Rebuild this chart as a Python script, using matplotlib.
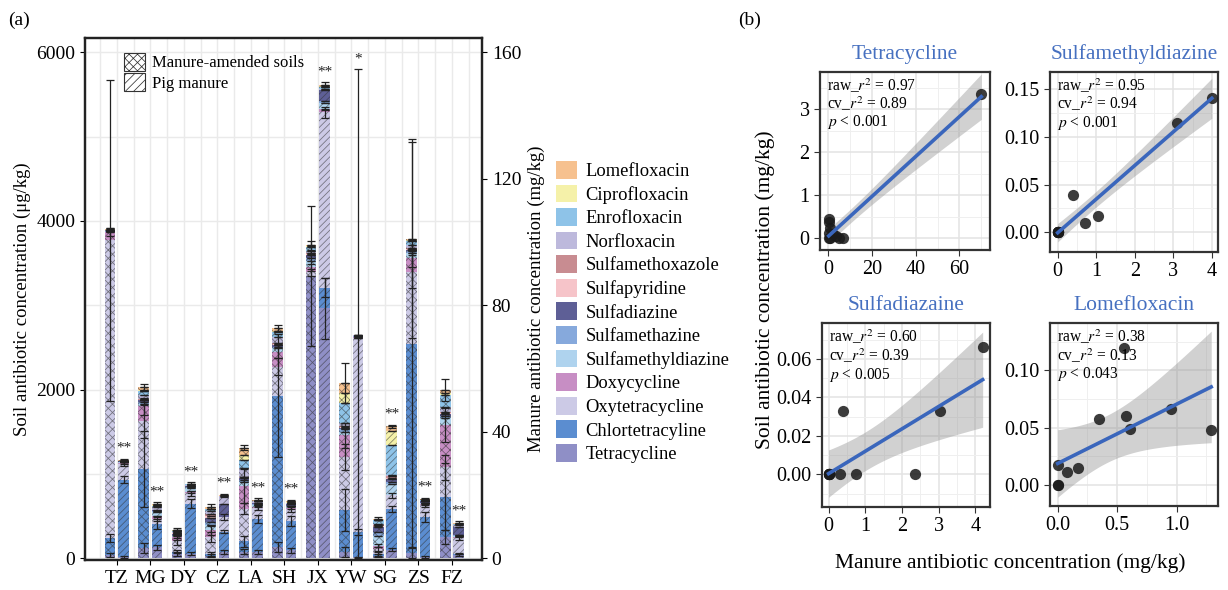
import numpy as np
import matplotlib
matplotlib.use("Agg")
import matplotlib.pyplot as plt
from matplotlib.patches import Patch
from matplotlib.ticker import FormatStrFormatter, MultipleLocator

plt.rcParams['font.family'] = ['Liberation Serif', 'DejaVu Serif']
plt.rcParams['mathtext.fontset'] = 'stix'
plt.rcParams['hatch.linewidth'] = 0.55

# ---------------- panel (a) data ----------------
sites = ['TZ', 'MG', 'DY', 'CZ', 'LA', 'SH', 'JX', 'YW', 'SG', 'ZS', 'FZ']
# stacking order bottom -> top
antibiotics = ['Tetracycline', 'Chlortetracyline', 'Oxytetracycline', 'Doxycycline',
               'Sulfamethyldiazine', 'Sulfamethazine', 'Sulfadiazine', 'Sulfapyridine',
               'Sulfamethoxazole', 'Norfloxacin', 'Enrofloxacin', 'Ciprofloxacin', 'Lomefloxacin']
colors = ['#8F8FC6', '#5B8DD0', '#CCCAE6', '#C78EC4', '#AFD3EE', '#86A9DC', '#5E5F96',
          '#F6C4C9', '#C88C91', '#BDB9DC', '#8EC3E8', '#F5F1A9', '#F6C18F']

# soil concentrations (ug/kg)
soil_tc = [40, 120, 50, 30, 80, 130, 3350, 80, 30, 60, 250]
soil_ctc = [200, 935, 30, 20, 120, 1800, 0, 490, 20, 2480, 480]
soil_otc = [3530, 568, 120, 200, 390, 340, 40, 630, 60, 860, 350]
soil_dox = [100, 182, 50, 80, 270, 180, 60, 260, 40, 160, 500]
soil_smd = [5, 30, 15, 60, 50, 40, 80, 40, 120, 60, 80]
soil_smz = [5, 20, 10, 40, 20, 20, 30, 30, 40, 20, 30]
soil_sd = [5, 20, 10, 50, 20, 20, 40, 20, 60, 20, 20]
soil_spd = [0, 5, 10, 20, 10, 10, 10, 10, 10, 10, 10]
soil_smx = [0, 5, 5, 20, 10, 10, 10, 10, 10, 10, 10]
soil_nor = [5, 50, 15, 40, 100, 70, 30, 30, 20, 40, 60]
soil_enr = [5, 45, 10, 20, 100, 60, 40, 240, 40, 40, 150]
soil_cip = [0, 20, 5, 10, 60, 20, 10, 120, 10, 10, 20]
soil_lom = [5, 28, 10, 20, 80, 30, 10, 120, 10, 20, 40]

soil_sd_tc = [20, 60, 20, 20, 30, 60, 830, 60, 20, 60, 80]
soil_sd_ctc = [50, 450, 20, 20, 60, 730, 0, 250, 20, 2400, 400]
soil_sd_otc = [1900, 200, 40, 60, 60, 100, 40, 150, 20, 200, 150]
soil_sd_dox = [50, 100, 30, 50, 200, 80, 40, 150, 20, 100, 200]
soil_sd_total = [20, 40, 20, 30, 30, 40, 50, 240, 20, 1180, 130]

# pig manure concentrations (mg/kg)
man_tc = [0.5, 3.5, 1.5, 2.0, 2.0, 2.5, 79, 0.3, 2.7, 0.5, 1.0]
man_ctc = [24.4, 7.3, 15.8, 6.4, 10.5, 9.3, 6.5, 8.0, 13, 12.6, 0.5]
man_otc = [4.9, 1.7, 3.2, 4.7, 3.5, 3.8, 55.5, 61.5, 4.3, 3.7, 5.0]
man_dox = [0.3, 0.8, 0.5, 0, 0.3, 0.3, 1.0, 0.2, 0, 0.3, 0.3]
man_smd = [0.2, 1.5, 1.2, 0, 0.5, 0.5, 2.0, 0.1, 3.5, 0.3, 0.3]
man_smz = [0.2, 0.3, 0.3, 0, 0.3, 0.2, 0.5, 0.1, 0.5, 0.2, 0.3]
man_sd = [0.3, 0.3, 0.5, 4.1, 0.5, 0.6, 3.5, 0.2, 1.0, 0.4, 2.5]
man_spd = [0, 0, 0, 0, 0, 0, 0, 0, 0.5, 0, 0]
man_smx = [0, 0, 0, 0, 0, 0, 0, 0, 0.5, 0, 0]
man_nor = [0.1, 0.8, 0.3, 2.5, 0.4, 0.3, 0.5, 0.1, 0.3, 0.2, 0.5]
man_enr = [0, 0.5, 0.1, 0, 0.1, 0.1, 0.5, 0, 9.5, 0.1, 0.3]
man_cip = [0, 0.2, 0, 0, 0.1, 0.1, 0.2, 0, 4.5, 0.1, 0]
man_lom = [0.1, 0.4, 0.1, 0.2, 0.3, 0.3, 0.5, 0.1, 1.5, 0.3, 0.5]

man_sd_tc = [0.3, 0.8, 0.5, 0.5, 0.5, 0.8, 9.5, 0.2, 0.5, 0.3, 0.3]
man_sd_ctc = [1.0, 1.5, 1.5, 0.5, 1.2, 1.5, 3.0, 1.0, 1.0, 1.5, 0.2]
man_sd_otc = [0.5, 0.8, 0.8, 1.0, 0.8, 0.8, 1.8, 0, 0.8, 0.6, 0.8]
man_sd_dox = [0.2, 0.2, 0.2, 0, 0.2, 0.2, 0.2, 0.2, 0, 0.2, 0.2]
man_sd_total = [0.5, 0.5, 0.5, 0.5, 0.5, 0.5, 0.8, 84, 0.5, 0.5, 0.5]

signif = ['**', '**', '**', '**', '**', '**', '**', '*', '**', '**', '**']

soil = [soil_tc, soil_ctc, soil_otc, soil_dox, soil_smd, soil_smz, soil_sd,
        soil_spd, soil_smx, soil_nor, soil_enr, soil_cip, soil_lom]
manure = [man_tc, man_ctc, man_otc, man_dox, man_smd, man_smz, man_sd,
          man_spd, man_smx, man_nor, man_enr, man_cip, man_lom]
soil_err = {0: soil_sd_tc, 1: soil_sd_ctc, 2: soil_sd_otc, 3: soil_sd_dox}
man_err = {0: man_sd_tc, 1: man_sd_ctc, 2: man_sd_otc, 3: man_sd_dox}

# ---------------- panel (b) data ----------------
tet_x = [70, 0.5, 0.5, 0.8, 0.5, 2.0, 1.0, 3.5, 5.0, 6.5, 0.2]
tet_y = [3.35, 0.45, 0.38, 0.25, 0.12, 0.10, 0.02, 0.05, 0.0, 0.02, 0.0]
smd_x = [0, 0, 0, 0, 0, 0, 0.4, 0.72, 1.05, 3.1, 4.0]
smd_y = [0, 0, 0, 0, 0, 0, 0.039, 0.010, 0.017, 0.115, 0.141]
sdz_x = [0, 0, 0, 0, 0, 0.3, 0.75, 0.38, 2.35, 3.05, 4.2]
sdz_y = [0, 0, 0, 0, 0, 0, 0, 0.033, 0, 0.033, 0.066]
lom_x = [0, 0, 0, 0.08, 0.17, 0.35, 0.56, 0.57, 0.61, 0.95, 1.29]
lom_y = [0, 0, 0.017, 0.011, 0.015, 0.058, 0.120, 0.060, 0.049, 0.066, 0.048]

panel_titles = ['Tetracycline', 'Sulfamethyldiazine', 'Sulfadiazaine', 'Lomefloxacin']
raw_r2 = ['0.97', '0.95', '0.60', '0.38']
cv_r2 = ['0.89', '0.94', '0.39', '0.13']
p_text = ['< 0.001', '< 0.001', '< 0.005', '< 0.043']

T95 = {4: 2.776, 5: 2.571, 6: 2.447, 7: 2.365, 8: 2.306, 9: 2.262, 10: 2.228}

W, H = 1228, 590
fig = plt.figure(figsize=(W / 100, H / 100), dpi=100)


def box(l, t, r, b):
    return [l / W, 1 - b / H, (r - l) / W, (b - t) / H]


# ================= panel (a) =================
ax = fig.add_axes(box(85, 38, 482, 560))
ax2 = ax.twinx()
ratio = 37.5
ax.set_xlim(-0.95, 10.9)
ax.set_ylim(-20, 6170)
ax2.set_ylim(-20 / ratio, 6170 / ratio)

x = np.arange(len(sites))
bw = 0.32
xs = x - 0.2
xm = x + 0.2
hatch_edge = (0.2, 0.2, 0.2, 0.6)

for i in range(len(sites)):
    # soil bar (crosshatch, left axis)
    cum = 0
    for k, name in enumerate(antibiotics):
        v = soil[k][i]
        if v <= 0:
            continue
        ax.bar(xs[i], v, bottom=cum, width=bw, color=colors[k], hatch='xxxx',
               edgecolor=hatch_edge, linewidth=0, zorder=2)
        cum += v
        e = soil_err[k][i] if k in soil_err else 0
        ax.errorbar(xs[i], cum, yerr=e, fmt='none', ecolor='#222222',
                    elinewidth=0.9, capsize=2.8, capthick=0.9, zorder=3)
    ax.errorbar(xs[i], cum, yerr=soil_sd_total[i], fmt='none', ecolor='#222222',
                elinewidth=0.9, capsize=2.8, capthick=0.9, zorder=3)

    # manure bar (diagonal hatch, right axis)
    cum = 0
    for k, name in enumerate(antibiotics):
        v = manure[k][i]
        if v <= 0:
            continue
        ax2.bar(xm[i], v, bottom=cum, width=bw, color=colors[k], hatch='/////',
                edgecolor=hatch_edge, linewidth=0, zorder=2)
        cum += v
        e = man_err[k][i] if k in man_err else 0
        ax2.errorbar(xm[i], cum, yerr=e, fmt='none', ecolor='#222222',
                     elinewidth=0.9, capsize=2.8, capthick=0.9, zorder=3)
    ax2.errorbar(xm[i], cum, yerr=man_sd_total[i], fmt='none', ecolor='#222222',
                 elinewidth=0.9, capsize=2.8, capthick=0.9, zorder=3)
    ax2.text(xm[i], cum + man_sd_total[i] + 1.2, signif[i], ha='center', va='bottom',
             fontsize=11, color='#222222')

ax.set_xticks(x)
ax.set_xticklabels(sites, fontsize=14)
ax.xaxis.set_minor_locator(MultipleLocator(0.5))
ax.set_yticks([0, 2000, 4000, 6000])
ax.yaxis.set_minor_locator(MultipleLocator(1000))
ax.tick_params(axis='y', labelsize=14)
ax.tick_params(which='minor', length=0)
ax2.set_yticks([0, 40, 80, 120, 160])
ax2.tick_params(axis='y', labelsize=14)
ax.grid(True, which='both', color='#EAEAEA', linewidth=1.0, zorder=0)
ax.set_axisbelow(True)
for sp in list(ax.spines.values()) + list(ax2.spines.values()):
    sp.set_linewidth(1.6)
    sp.set_color('#222222')
ax.set_ylabel('Soil antibiotic concentration (μg/kg)', fontsize=13.5)
ax2.set_ylabel('Manure antibiotic concentration (mg/kg)', fontsize=13.5, labelpad=5)

hatch_handles = [Patch(facecolor='white', edgecolor='#333333', hatch='xxxx', linewidth=0.8),
                 Patch(facecolor='white', edgecolor='#333333', hatch='////', linewidth=0.8)]
ax2.legend(hatch_handles, ['Manure-amended soils', 'Pig manure'], loc='upper left',
           bbox_to_anchor=(0.098, 0.972), frameon=False, fontsize=12,
           handlelength=1.25, handleheight=1.3, labelspacing=0.1, handletextpad=0.45,
           borderpad=0, borderaxespad=0)

color_handles = [Patch(facecolor=colors[k], edgecolor='none') for k in range(len(antibiotics))][::-1]
fig.legend(color_handles, antibiotics[::-1], loc='upper left',
           bbox_to_anchor=(556 / W, 1 - 161 / H), frameon=False, fontsize=13.3,
           handlelength=1.15, handleheight=1.1, labelspacing=0.24, handletextpad=0.45,
           borderpad=0, borderaxespad=0)

fig.text(8 / W, 1 - 20 / H, '(a)', fontsize=14, va='center')
fig.text(738 / W, 1 - 20 / H, '(b)', fontsize=14, va='center')

# ================= panel (b) =================
panels = [
    (box(820, 72, 990, 250), tet_x, tet_y, (-3.8, 74), (-0.27, 3.87),
     [0, 20, 40, 60], [0, 1, 2, 3], '%d', '%d'),
    (box(1050, 72, 1218, 252), smd_x, smd_y, (-0.2, 4.16), (-0.0206, 0.168),
     [0, 1, 2, 3, 4], [0, 0.05, 0.10, 0.15], '%d', '%.2f'),
    (box(822, 323, 990, 507), sdz_x, sdz_y, (-0.18, 4.4), (-0.017, 0.0786),
     [0, 1, 2, 3, 4], [0, 0.02, 0.04, 0.06], '%d', '%.2f'),
    (box(1050, 323, 1218, 506), lom_x, lom_y, (-0.065, 1.347), (-0.0184, 0.1415),
     [0, 0.5, 1.0], [0, 0.05, 0.10], '%.1f', '%.2f'),
]

for j, (pos, px, py, xl, yl, xt, yt, xf, yf) in enumerate(panels):
    a = fig.add_axes(pos)
    px = np.array(px, dtype=float)
    py = np.array(py, dtype=float)
    n = len(px)
    b1, b0 = np.polyfit(px, py, 1)
    xx = np.linspace(px.min(), px.max(), 100)
    yy = b0 + b1 * xx
    resid = py - (b0 + b1 * px)
    s = np.sqrt(np.sum(resid ** 2) / (n - 2))
    sxx = np.sum((px - px.mean()) ** 2)
    se = s * np.sqrt(1 / n + (xx - px.mean()) ** 2 / sxx)
    t = T95[n - 2]
    a.fill_between(xx, yy - t * se, yy + t * se, color='#999999', alpha=0.45,
                   linewidth=0, zorder=2)
    a.scatter(px, py, s=65, color='#1a1a1a', alpha=0.85, linewidths=0, zorder=3)
    a.plot(xx, yy, color='#3A66BC', linewidth=2.6, zorder=4)
    a.set_xlim(*xl)
    a.set_ylim(*yl)
    a.set_xticks(xt)
    a.set_yticks(yt)
    a.xaxis.set_major_formatter(FormatStrFormatter(xf))
    a.yaxis.set_major_formatter(FormatStrFormatter(yf))
    a.xaxis.set_minor_locator(MultipleLocator((xt[1] - xt[0]) / 2))
    a.yaxis.set_minor_locator(MultipleLocator((yt[1] - yt[0]) / 2))
    a.grid(True, which='major', color='#E3E3E3', linewidth=1.1, zorder=0)
    a.grid(True, which='minor', color='#EFEFEF', linewidth=0.7, zorder=0)
    a.set_axisbelow(True)
    a.tick_params(which='minor', length=0)
    a.tick_params(which='major', labelsize=14.5, color='#333333', length=4)
    for sp in a.spines.values():
        sp.set_linewidth(1.6)
        sp.set_color('#333333')
    a.set_title(panel_titles[j], color='#4670C0', fontsize=15.5, pad=9)
    a.text(0.04, 0.975, r'raw_$\mathit{r}^2$ = ' + raw_r2[j], transform=a.transAxes,
           fontsize=11.2, va='top', zorder=5)
    a.text(0.04, 0.872, r'cv_$\mathit{r}^2$ = ' + cv_r2[j], transform=a.transAxes,
           fontsize=11.2, va='top', zorder=5)
    a.text(0.04, 0.769, r'$\mathit{p}$ ' + p_text[j], transform=a.transAxes,
           fontsize=11.2, va='top', zorder=5)

fig.text(765 / W, 1 - 290 / H, 'Soil antibiotic concentration (mg/kg)', rotation=90,
         ha='center', va='center', fontsize=15.5)
fig.text(1010 / W, 1 - 563 / H, 'Manure antibiotic concentration (mg/kg)',
         ha='center', va='center', fontsize=15.5)

fig.savefig('out.png', dpi=100)
